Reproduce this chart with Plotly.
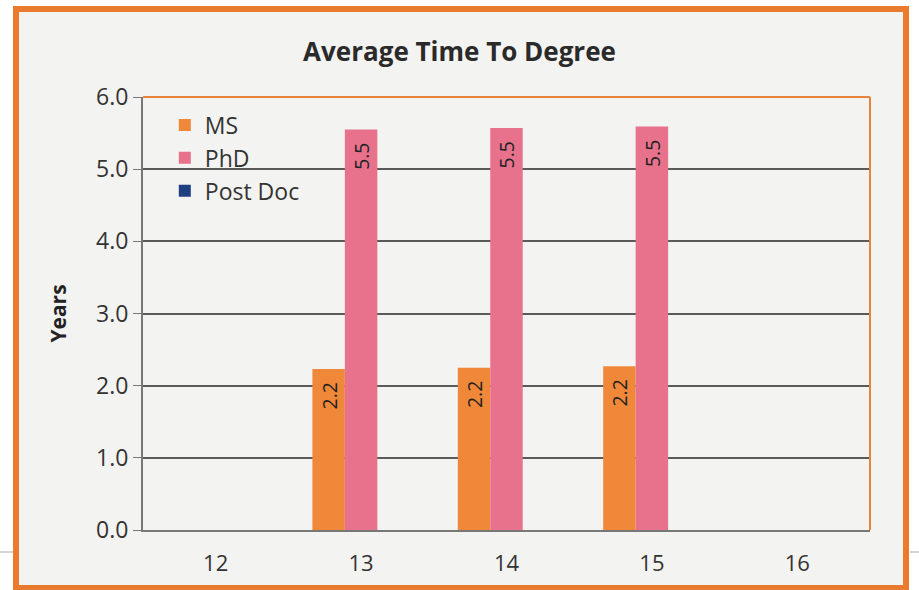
import plotly.graph_objects as go

categories = ["12", "13", "14", "15", "16"]
ms_values = [None, 2.23, 2.25, 2.27, None]
ms_labels = ["", "2.2\u00a0\u00a0", "2.2\u00a0\u00a0", "2.2\u00a0\u00a0", ""]
phd_values = [None, 5.55, 5.57, 5.59, None]
phd_labels = ["", "5.5\u00a0\u00a0", "5.5\u00a0\u00a0", "5.5\u00a0\u00a0", ""]
postdoc_values = [None, None, None, None, None]
y_ticks = [0, 1, 2, 3, 4, 5, 6]

fig = go.Figure()
fig.add_trace(go.Bar(name="MS", x=categories, y=ms_values, text=ms_labels,
                     marker_color="#f0883a"))
fig.add_trace(go.Bar(name="PhD", x=categories, y=phd_values, text=phd_labels,
                     marker_color="#e8728c"))
fig.add_trace(go.Bar(name="Post Doc", x=categories, y=postdoc_values,
                     marker_color="#1f3f80"))
fig.update_traces(textposition="inside", insidetextanchor="end", textangle=-90,
                  textfont=dict(color="#222222", size=22, family="Open Sans"),
                  marker_line_width=0)

L, R, T, B = 143, 49, 97, 60
W, H = 919, 590
pw, ph = W - L - R, H - T - B
def px(x):
    return (x - L) / pw
def py(y):
    return (H - B - y) / ph

fig.update_layout(
    width=W, height=H,
    margin=dict(l=L, r=R, t=T, b=B),
    paper_bgcolor="#ffffff", plot_bgcolor="#f8f8f6",
    barmode="group", bargap=0.33, bargroupgap=0,
    font=dict(family="Open Sans", color="#333333"),
    title=dict(text="<b>Average Time To Degree</b>", x=0.5, xanchor="center",
               y=1 - 52 / H, yanchor="middle", font=dict(size=26, color="#2a2a2a")),
    legend=dict(x=0.03, y=0.985, xanchor="left", yanchor="top",
                bgcolor="rgba(0,0,0,0)", font=dict(size=23, color="#333333"),
                itemsizing="constant", tracegroupgap=0, itemwidth=30),
    xaxis=dict(showgrid=False, showline=True, linecolor="#777777", linewidth=2,
               tickfont=dict(size=22, color="#333333"), ticks="", ticklabelstandoff=13),
    yaxis=dict(range=[0, 6], tickvals=y_ticks, tickformat=".1f",
               showgrid=True, gridcolor="#5a5a5a", gridwidth=1.5,
               showline=True, linecolor="#777777", linewidth=2,
               ticks="outside", ticklen=8, tickcolor="#777777",
               tickfont=dict(size=23, color="#333333"),
               title=dict(text="<b>Years</b>", font=dict(size=21, color="#222222"), standoff=24),
               zeroline=False),
    showlegend=True,
)

fig.add_shape(type="rect", xref="paper", yref="paper",
              x0=px(16), x1=px(906), y0=py(588), y1=py(9),
              fillcolor="#f3f3f1", line=dict(color="#ea7a2e", width=6), layer="below")
fig.add_shape(type="line", xref="paper", yref="paper", x0=px(0), x1=px(13),
              y0=py(552), y1=py(552), line=dict(color="#aaaaaa", width=1))
fig.add_shape(type="line", xref="paper", yref="paper", x0=px(910), x1=px(919),
              y0=py(552), y1=py(552), line=dict(color="#aaaaaa", width=1))
fig.add_shape(type="line", xref="paper", yref="paper", x0=0, x1=1, y0=1, y1=1,
              line=dict(color="#e8833a", width=2))
fig.add_shape(type="line", xref="paper", yref="paper", x0=1, x1=1, y0=0, y1=1,
              line=dict(color="#e8833a", width=2))

fig.write_html("out.html", config={"displayModeBar": False},
               post_script="document.body.style.margin='0';")
